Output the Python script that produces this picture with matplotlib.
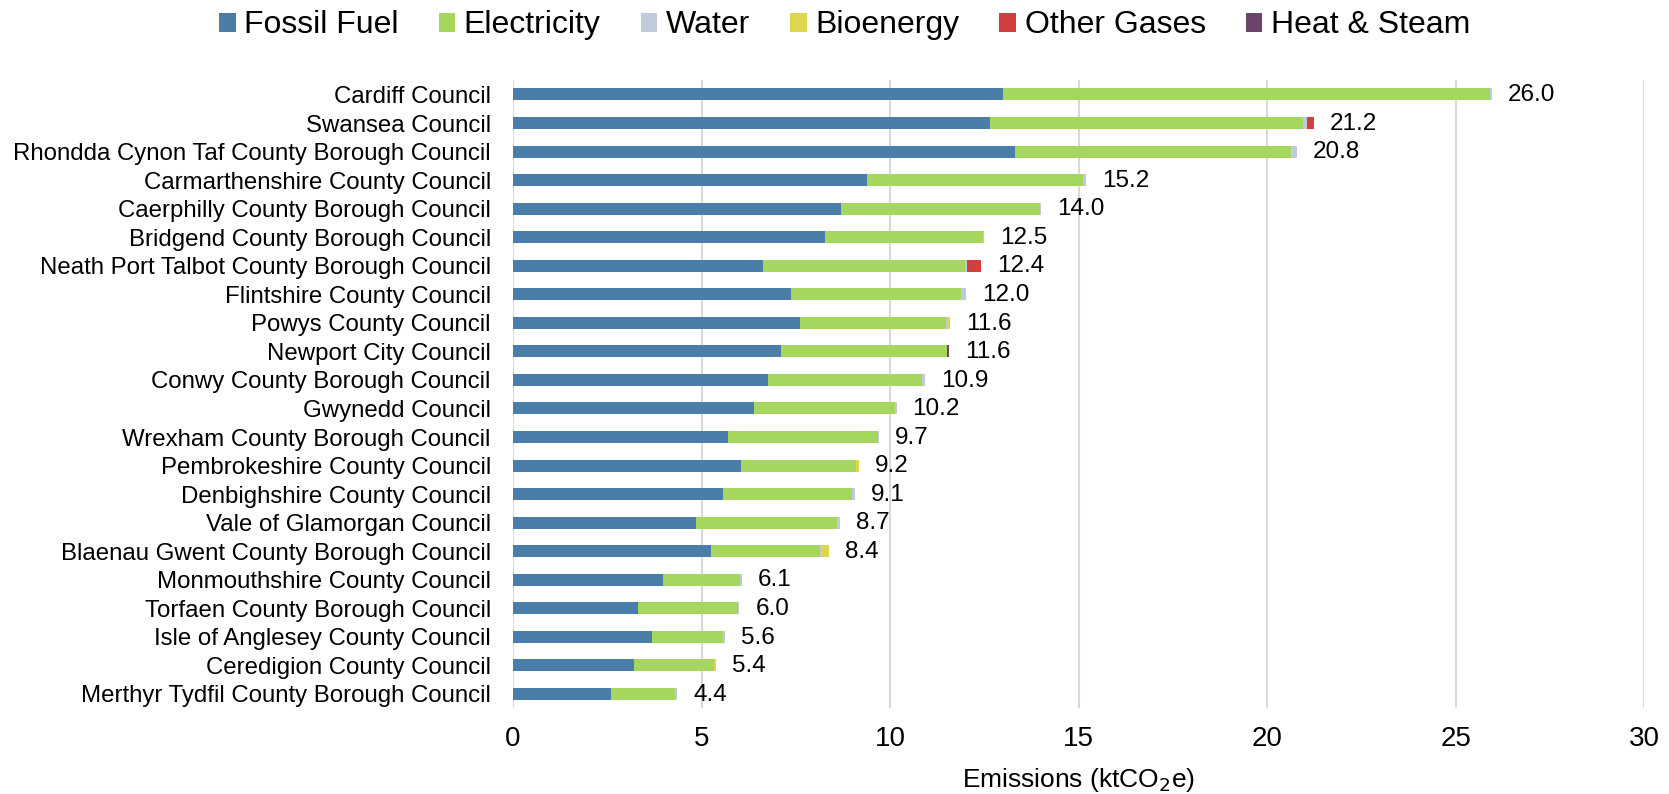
#!/usr/bin/env python3
# Council emissions by source, stacked horizontal bars
import numpy as np
from matplotlib import pyplot as plt

plt.rcParams["font.family"] = ["Liberation Sans", "DejaVu Sans"]

councils = ["Cardiff Council", "Swansea Council", "Rhondda Cynon Taf County Borough Council",
            "Carmarthenshire County Council", "Caerphilly County Borough Council",
            "Bridgend County Borough Council", "Neath Port Talbot County Borough Council",
            "Flintshire County Council", "Powys County Council", "Newport City Council",
            "Conwy County Borough Council", "Gwynedd Council", "Wrexham County Borough Council",
            "Pembrokeshire County Council", "Denbighshire County Council", "Vale of Glamorgan Council",
            "Blaenau Gwent County Borough Council", "Monmouthshire County Council",
            "Torfaen County Borough Council", "Isle of Anglesey County Council",
            "Ceredigion County Council", "Merthyr Tydfil County Borough Council"]
fossilFuel = [13.00, 12.65, 13.30, 9.38, 8.69, 8.27, 6.63, 7.37, 7.60, 7.10, 6.77,
              6.40, 5.69, 6.04, 5.56, 4.84, 5.24, 3.98, 3.32, 3.69, 3.21, 2.61]
electricity = [12.90, 8.30, 7.34, 5.74, 5.27, 4.19, 5.36, 4.51, 3.89, 4.40, 4.08,
               3.74, 4.00, 3.06, 3.42, 3.74, 2.89, 2.05, 2.64, 1.89, 2.11, 1.68]
water = [0.06, 0.09, 0.15, 0.07, 0.04, 0.03, 0.05, 0.14, 0.03, 0.00, 0.07,
         0.03, 0.02, 0.00, 0.08, 0.08, 0.03, 0.04, 0.04, 0.03, 0.01, 0.07]
bioenergy = [0.00, 0.00, 0.00, 0.00, 0.00, 0.00, 0.00, 0.00, 0.06, 0.00, 0.00,
             0.00, 0.00, 0.06, 0.00, 0.00, 0.22, 0.00, 0.00, 0.00, 0.04, 0.00]
otherGases = [0.00, 0.20, 0.00, 0.00, 0.01, 0.00, 0.38, 0.00, 0.00, 0.00, 0.00,
              0.00, 0.00, 0.00, 0.00, 0.00, 0.00, 0.00, 0.00, 0.00, 0.00, 0.00]
heatSteam = [0.00, 0.00, 0.00, 0.00, 0.00, 0.00, 0.00, 0.00, 0.00, 0.06, 0.00,
             0.00, 0.00, 0.00, 0.00, 0.00, 0.00, 0.00, 0.00, 0.00, 0.00, 0.00]

sources = ["Fossil Fuel", "Electricity", "Water", "Bioenergy", "Other Gases", "Heat & Steam"]
colours = ["#4a7ea8", "#a5d65e", "#bfcadc", "#e0d54e", "#d04040", "#6b4568"]
series = [fossilFuel, electricity, water, bioenergy, otherGases, heatSteam]

fig = plt.figure(figsize=(16.69, 7.94), dpi=100)
ax = fig.add_axes([0.3074, 0.108, 0.6779, 0.791])

y = np.arange(len(councils))
left = np.zeros(len(councils))
for name, col, vals in zip(sources, colours, series):
    vals = np.array(vals)
    ax.barh(y, vals, left=left, height=0.42, color=col, label=name, edgecolor="none")
    left += vals

for yi, tot in zip(y, left):
    ax.annotate(f"{tot:.1f}", (tot, yi), xytext=(11.5, -0.5), textcoords="offset points",
                ha="left", va="center", fontsize=17.5)

ax.set_ylim(len(councils) - 0.5, -0.5)
ax.set_xlim(0, 30)
ax.set_yticks(y)
ax.set_yticklabels(councils, fontsize=17.3)
ax.set_xticks(np.arange(0, 31, 5))
ax.tick_params(axis="x", length=0, pad=13, labelsize=20)
ax.tick_params(axis="y", length=0, pad=16)
for s in ax.spines.values():
    s.set_visible(False)
ax.grid(axis="x", color="#d9d9d9", linewidth=1.5)
ax.set_axisbelow(True)
ax.set_xlabel("Emissions (ktCO$_2$e)", fontsize=19, labelpad=10)

fig.legend(loc="center", bbox_to_anchor=(0.506, 0.968), ncol=6, frameon=False, fontsize=23,
           handlelength=0.53, handleheight=0.53, handletextpad=0.26, columnspacing=1.25)

fig.savefig("out.png", dpi=100)
plt.close(fig)
